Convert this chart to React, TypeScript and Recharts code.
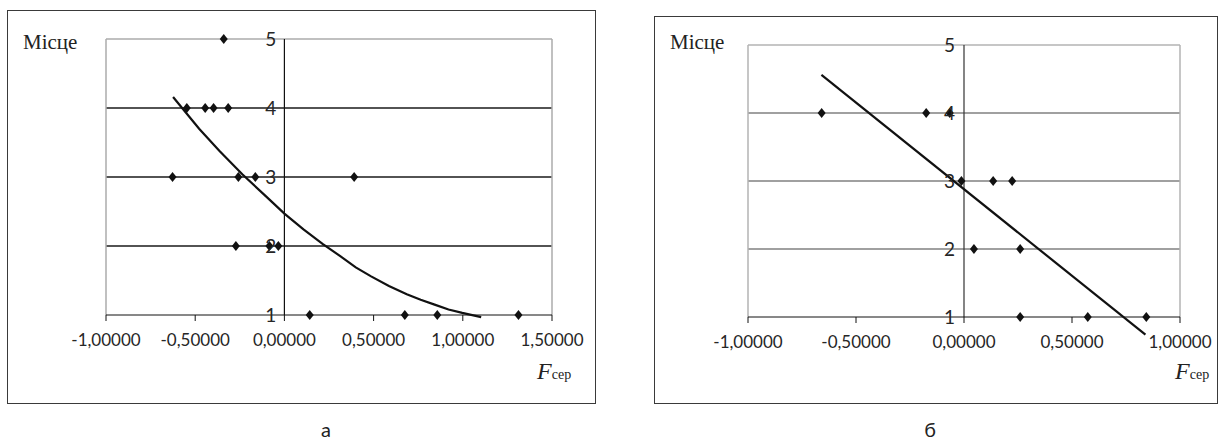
import React from 'react';
import { ComposedChart, Scatter, XAxis, YAxis, ReferenceLine, ReferenceDot } from 'recharts';

// panel "а": observed places vs mean F
const leftX = [-0.34, -0.547, -0.444, -0.397, -0.315, -0.627, -0.258, -0.163, 0.391, -0.272, -0.084, -0.034, 0.142, 0.675, 0.857, 1.312];
const leftY = [5, 4, 4, 4, 4, 3, 3, 3, 3, 2, 2, 2, 1, 1, 1, 1];
// trend curve
const leftTrendX = [-0.624, -0.478, -0.365, -0.236, -0.103, 0, 0.107, 0.214, 0.315, 0.4, 0.486, 0.586, 0.686, 0.764, 0.842, 0.92, 0.997, 1.103];
const leftTrendY = [4.16, 3.7, 3.38, 3.04, 2.72, 2.47, 2.24, 2.03, 1.85, 1.69, 1.56, 1.42, 1.3, 1.22, 1.15, 1.08, 1.03, 0.97];

// panel "б"
const rightX = [-0.659, -0.175, -0.066, -0.012, 0.135, 0.223, 0.046, 0.26, 0.26, 0.573, 0.844];
const rightY = [4, 4, 4, 3, 3, 3, 2, 2, 1, 1, 1];
const rightTrendX = [-0.66, 0.84];
const rightTrendY = [4.56, 0.74];

const leftXTicks = [-1, -0.5, 0, 0.5, 1, 1.5];
const rightXTicks = [-1, -0.5, 0, 0.5, 1];
const yTicks = [1, 2, 3, 4, 5];
const gridTicks = [2, 3, 4];

const rows = (xs: number[], ys: number[]) => xs.map((x, i) => ({ x, y: ys[i] }));
const fmt = (v: number) => v.toFixed(5).replace('.', ',');

const SANS = 'Lato, "Open Sans", sans-serif';
const SERIF = '"Liberation Serif", "DejaVu Serif", serif';

function Diamond(props: any) {
  const { cx, cy } = props;
  if (cx == null || cy == null) return <g />;
  return (
    <polygon
      points={`${cx},${cy - 5} ${cx + 4},${cy} ${cx},${cy + 5} ${cx - 4},${cy}`}
      fill="#111"
    />
  );
}

interface PanelProps {
  left: number;
  width: number;
  frame: { l: number; t: number; r: number; b: number };
  margin: { top: number; left: number; right: number; bottom: number };
  xDomain: [number, number];
  xTicks: number[];
  points: { x: number; y: number }[];
  trend: { x: number; y: number }[];
  gridColor: string;
  borderColor: string;
  axisColor: string;
  labelOffset: number;
  fLeft: number;
  capCenter: number;
  caption: string;
}

function Panel(p: PanelProps) {
  return (
    <div style={{ position: 'absolute', left: p.left, top: 0, width: p.width, height: 439 }}>
      <div
        style={{
          position: 'absolute',
          left: p.frame.l,
          top: p.frame.t,
          width: p.frame.r - p.frame.l,
          height: p.frame.b - p.frame.t,
          border: '1.5px solid #3a3a3a',
          boxSizing: 'border-box',
        }}
      />
      <div style={{ position: 'absolute', left: 0, top: 0 }}>
        <ComposedChart width={p.width} height={410} margin={p.margin}>
          <XAxis
            type="number"
            dataKey="x"
            domain={p.xDomain}
            ticks={p.xTicks}
            tickFormatter={fmt}
            allowDataOverflow
            interval={0}
            height={30}
            stroke="#111"
            tickSize={6}
            tickMargin={13}
            tick={{ fill: '#262626', fontSize: 17, fontFamily: SANS }}
          />
          <YAxis type="number" dataKey="y" domain={[1, 5]} ticks={yTicks} allowDataOverflow hide />
          {gridTicks.map((t) => (
            <ReferenceLine key={'g' + t} y={t} stroke={p.gridColor} strokeWidth={1.3} />
          ))}
          <ReferenceLine y={5} stroke={p.borderColor} strokeWidth={1.5} />
          <ReferenceLine x={p.xDomain[0]} stroke={p.borderColor} strokeWidth={1.5} />
          <ReferenceLine x={p.xDomain[1]} stroke={p.borderColor} strokeWidth={1.5} />
          <ReferenceLine x={0} stroke={p.axisColor} strokeWidth={1.2} />
          {yTicks.map((t) => (
            <ReferenceDot
              key={'l' + t}
              x={0}
              y={t}
              r={0}
              fill="none"
              stroke="none"
              label={{
                value: String(t),
                position: 'left',
                offset: p.labelOffset,
                fill: '#262626',
                fontSize: 19,
                fontFamily: SANS,
              }}
            />
          ))}
          <Scatter data={p.points} shape={<Diamond />} isAnimationActive={false} />
          <Scatter
            data={p.trend}
            fill="#111"
            line={{ stroke: '#111', strokeWidth: 2.2 }}
            shape={() => <g />}
            isAnimationActive={false}
          />
        </ComposedChart>
      </div>
      <div
        style={{
          position: 'absolute',
          left: p.frame.l + 16,
          top: 32,
          fontFamily: SERIF,
          fontSize: 21,
          lineHeight: 1,
          color: '#222',
        }}
      >
        Місце
      </div>
      <div
        style={{
          position: 'absolute',
          left: p.fLeft,
          top: 359,
          fontFamily: SERIF,
          lineHeight: 1,
          color: '#222',
          whiteSpace: 'nowrap',
        }}
      >
        <span style={{ fontStyle: 'italic', fontSize: 24 }}>F</span>
        <span style={{ fontSize: 14 }}>сер</span>
      </div>
      <div
        style={{
          position: 'absolute',
          left: p.capCenter - 20,
          width: 40,
          top: 419,
          textAlign: 'center',
          fontFamily: SANS,
          fontSize: 20,
          lineHeight: 1,
          color: '#222',
        }}
      >
        {p.caption}
      </div>
    </div>
  );
}

export default function App() {
  return (
    <div style={{ position: 'absolute', left: 0, top: 0, width: 1219, height: 439, background: '#fff' }}>
      <style>{`.recharts-scatter { clip-path: none !important; }`}</style>
      <Panel
        left={0}
        width={600}
        frame={{ l: 7, t: 10, r: 596, b: 404 }}
        margin={{ top: 39, left: 106, right: 48, bottom: 65 }}
        xDomain={[-1, 1.5]}
        xTicks={leftXTicks}
        points={rows(leftX, leftY)}
        trend={rows(leftTrendX, leftTrendY)}
        gridColor="#1a1a1a"
        borderColor="#ababab"
        axisColor="#111"
        labelOffset={8}
        fLeft={537}
        capCenter={326}
        caption="а"
      />
      <Panel
        left={640}
        width={579}
        frame={{ l: 14, t: 16, r: 578, b: 404 }}
        margin={{ top: 45, left: 108, right: 39, bottom: 63 }}
        xDomain={[-1, 1]}
        xTicks={rightXTicks}
        points={rows(rightX, rightY)}
        trend={rows(rightTrendX, rightTrendY)}
        gridColor="#808080"
        borderColor="#b3b3b3"
        axisColor="#333"
        labelOffset={9}
        fLeft={535}
        capCenter={290}
        caption="б"
      />
    </div>
  );
}
